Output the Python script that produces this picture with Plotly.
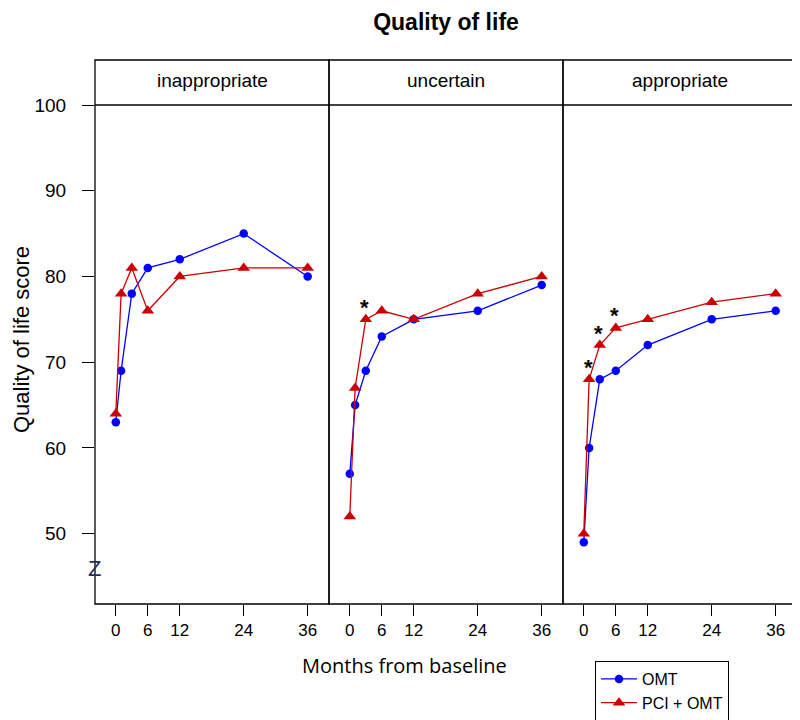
import plotly.graph_objects as go

# ---- data ----
panels = ["inappropriate", "uncertain", "appropriate"]
months = [0, 1, 3, 6, 12, 24, 36]
omt = {
    "inappropriate": [63, 69, 78, 81, 82, 85, 80],
    "uncertain": [57, 65, 69, 73, 75, 76, 79],
    "appropriate": [49, 60, 68, 69, 72, 75, 76],
}
pci = {
    "inappropriate": [64, 78, 81, 76, 80, 81, 81],
    "uncertain": [52, 67, 75, 76, 75, 78, 80],
    "appropriate": [50, 68, 72, 74, 75, 77, 78],
}
# months where PCI + OMT differs significantly (asterisks)
signif = {
    "inappropriate": [],
    "uncertain": [3],
    "appropriate": [1, 3, 6],
}
x_ticks = [0, 6, 12, 24, 36]
y_ticks = [50, 60, 70, 80, 90, 100]

FONT = "Liberation Sans, Arial, sans-serif"
BLUE = "#0000FF"
RED = "#CC0000"

# the page body has an 8px margin, so the figure is 8px smaller and all
# page positions are offset by 8px
OFF = 8
W, H = 800 - OFF, 720 - OFF
L, T = 95 - OFF, 60 - OFF
R = W - (797 - OFF)
B = H - (604 - OFF)
pw = W - L - R          # 702
ph = H - T - B          # 544
strip_h = 45
ytop = 1 - strip_h / ph  # top of plotting region (paper)


def px_x(ax):  # absolute page x -> paper x
    return (ax - 95) / pw


def px_y(ay):  # absolute page y -> paper y
    return (604 - ay) / ph


fig = go.Figure()

for i, p in enumerate(panels):
    ax = "" if i == 0 else str(i + 1)
    fig.add_trace(go.Scatter(
        x=months, y=omt[p], mode="lines+markers", name="OMT",
        xaxis="x" + ax, yaxis="y", legendgroup="omt", showlegend=(i == 0),
        line=dict(color=BLUE, width=1.3),
        marker=dict(symbol="circle", size=8.5, color=BLUE),
    ))
    fig.add_trace(go.Scatter(
        x=months, y=pci[p], mode="lines+markers", name="PCI + OMT",
        xaxis="x" + ax, yaxis="y", legendgroup="pci", showlegend=(i == 0),
        line=dict(color=RED, width=1.3),
        marker=dict(symbol="triangle-up", size=11, color=RED),
    ))
    for m in signif[p]:
        fig.add_annotation(
            x=m, y=pci[p][months.index(m)], xref="x" + ax, yref="y",
            text="<b>*</b>", showarrow=False, yshift=12, xshift=-1,
            xanchor="center", yanchor="middle",
            font=dict(family=FONT, size=22, color="black"),
        )
    # strip label
    fig.add_annotation(
        x=0.5, y=px_y(81), xref="x" + ax + " domain", yref="paper",
        text=p, showarrow=False, xanchor="center", yanchor="middle",
        font=dict(family=FONT, size=19, color="black"),
    )
    # panel frame + strip
    fig.add_shape(type="rect", xref="x" + ax + " domain", yref="paper",
                  x0=0, x1=1, y0=0, y1=1, line=dict(color="black", width=1.3))
    fig.add_shape(type="line", xref="x" + ax + " domain", yref="paper",
                  x0=0, x1=1, y0=ytop, y1=ytop, line=dict(color="black", width=1.3))

xaxis_common = dict(
    range=[-3.9, 40], tickvals=x_ticks, ticktext=[str(v) for v in x_ticks],
    ticks="outside", ticklen=11, tickwidth=1.2, tickcolor="black",
    showgrid=False, zeroline=False, showline=False, automargin=False,
    tickfont=dict(family=FONT, size=17, color="black"), anchor="y",
)
layout = dict(
    width=W, height=H,
    margin=dict(l=L, r=R, t=T, b=B, autoexpand=False),
    paper_bgcolor="white", plot_bgcolor="white",
    title=dict(text="<b>Quality of life</b>", x=0.5, xref="paper", xanchor="center",
               y=1 - (21.5 - OFF) / H, yref="container", yanchor="middle",
               font=dict(family=FONT, size=23, color="black")),
    yaxis=dict(range=[41.8, 100], domain=[0, ytop], tickvals=y_ticks,
               ticks="outside", ticklen=12, tickwidth=1.2, tickcolor="black",
               ticklabelstandoff=12, automargin=False,
               showgrid=False, zeroline=False, showline=False, anchor="x",
               tickfont=dict(family=FONT, size=19, color="black")),
    legend=dict(x=px_x(595), y=px_y(661),
                xanchor="left", yanchor="top", bordercolor="black", borderwidth=1,
                bgcolor="white", font=dict(family=FONT, size=16, color="black"),
                tracegroupgap=0, itemwidth=36),
    showlegend=True,
)
for i in range(3):
    key = "xaxis" if i == 0 else "xaxis" + str(i + 1)
    layout[key] = dict(xaxis_common, domain=[i / 3, (i + 1) / 3])
fig.update_layout(**layout)

# axis titles and stray mark
fig.add_annotation(x=px_x(21), y=px_y(340), xref="paper", yref="paper",
                   text="Quality of life score", textangle=-90, showarrow=False,
                   xanchor="center", yanchor="middle",
                   font=dict(family=FONT, size=22, color="black"))
fig.add_annotation(x=px_x(404), y=px_y(665), xref="paper", yref="paper",
                   text="Months from baseline", showarrow=False,
                   xanchor="center", yanchor="middle",
                   font=dict(family="Open Sans, sans-serif", size=20, color="black"))
fig.add_annotation(x=px_x(94), y=px_y(568), xref="paper", yref="paper",
                   text="Z", showarrow=False, xanchor="center", yanchor="middle",
                   font=dict(family=FONT, size=22, color="#1f2d5a"))

fig.write_html("out.html")
